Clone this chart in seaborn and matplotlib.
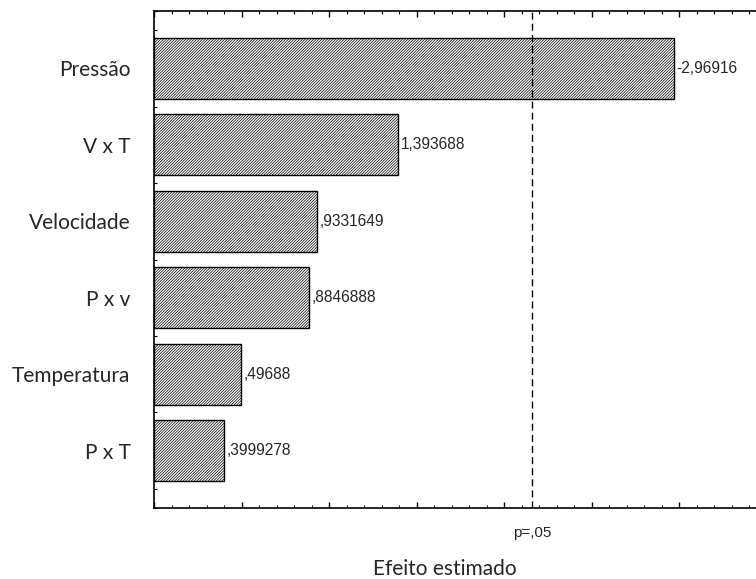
import matplotlib
matplotlib.use("Agg")
import matplotlib.pyplot as plt
import matplotlib.transforms as mtransforms
from matplotlib.ticker import MultipleLocator, NullFormatter
import pandas as pd
import seaborn as sns

# dados do gráfico de Pareto (efeitos padronizados, valor absoluto)
fatores = ["Pressão", "V x T", "Velocidade", "P x v", "Temperatura", "P x T"]
efeitos = [2.96916, 1.393688, 0.9331649, 0.8846888, 0.49688, 0.3999278]
rotulos = ["-2,96916", "1,393688", ",9331649", ",8846888", ",49688", ",3999278"]
p_limite = 2.16
p_texto = "p=,05"

sns.set_theme(style="ticks")
plt.rcParams["font.family"] = ["Lato", "DejaVu Sans"]
plt.rcParams["hatch.linewidth"] = 0.5
plt.rcParams["hatch.color"] = "black"

df = pd.DataFrame({"fator": fatores, "efeito": efeitos})

W, H = 756, 579
fig = plt.figure(figsize=(W / 100, H / 100), dpi=100)
ax = fig.add_axes([154 / W, 1 - 508 / H, 1 - 154 / W, (508 - 11) / H])

sns.barplot(data=df, x="efeito", y="fator", orient="h", color="white",
            edgecolor="black", linewidth=1.0, width=0.8, ax=ax, saturation=1)
for bar in ax.patches:
    bar.set_hatch("/" * 12)

# rótulos dos valores
arial = ["Liberation Sans", "DejaVu Sans"]
for i, (v, txt) in enumerate(zip(efeitos, rotulos)):
    ax.text(v + 0.015, i, txt, va="center", ha="left", fontsize=11.2, family=arial)

ax.axvline(p_limite, color="black", linestyle=(0, (5, 3)), linewidth=1.0)
trans = mtransforms.blended_transform_factory(ax.transData, fig.transFigure)
ax.text(p_limite, 1 - 533 / H, p_texto, transform=trans, ha="center", va="center",
        fontsize=11, family=arial)

ax.set_xlim(0, (W - 154) / 175)
ax.set_ylim(5.75, -0.75)

ax.xaxis.set_major_locator(MultipleLocator(0.5))
ax.xaxis.set_minor_locator(MultipleLocator(0.1))
ax.xaxis.set_major_formatter(NullFormatter())
ax.yaxis.set_minor_locator(MultipleLocator(0.25))
ax.tick_params(axis="x", which="both", direction="in", top=True, bottom=True, color="black")
ax.tick_params(axis="x", which="major", length=4, width=1)
ax.tick_params(axis="x", which="minor", length=2.2, width=0.8)
ax.tick_params(axis="y", which="major", direction="in", length=4, width=1,
               labelsize=15, pad=17, color="black")
ax.tick_params(axis="y", which="minor", direction="in", length=2.2, width=0.8, color="black")

for s in ["left", "top", "bottom"]:
    ax.spines[s].set_color("black")
    ax.spines[s].set_linewidth(1.2)
ax.spines["right"].set_visible(False)

ax.set_ylabel("")
ax.set_xlabel("")
fig.text(445 / W, 1 - 569 / H, "Efeito estimado", ha="center", va="center", fontsize=15)

fig.savefig("out.png", dpi=100)
